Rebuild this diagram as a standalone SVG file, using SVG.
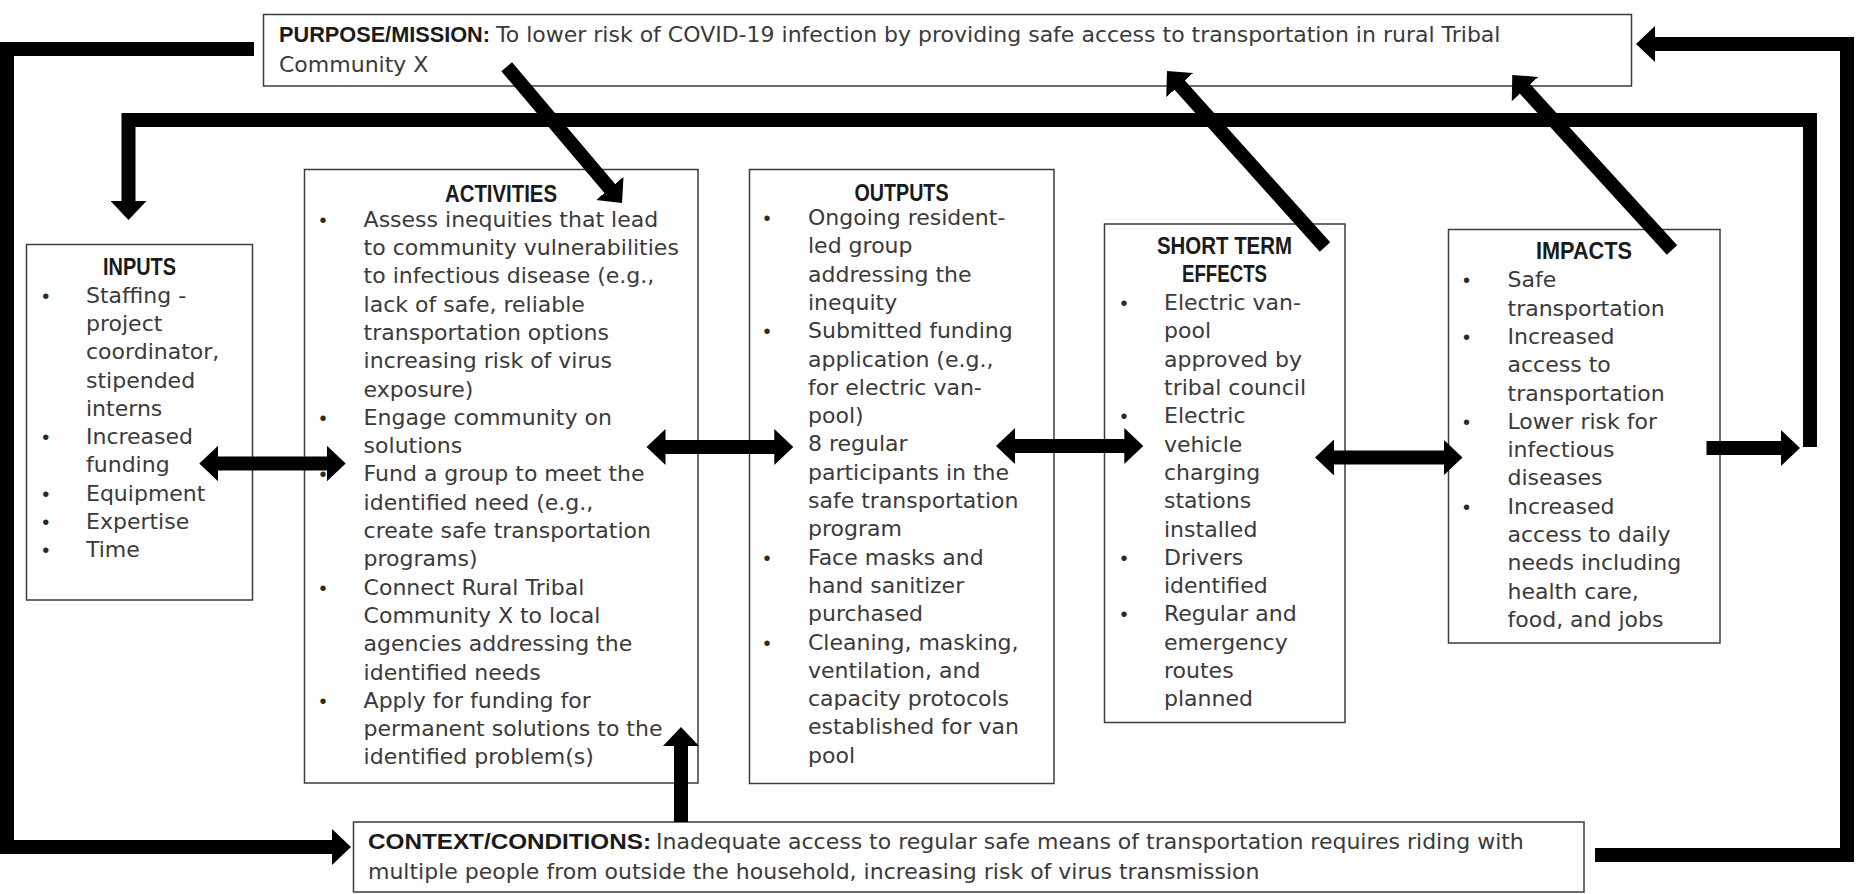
<svg xmlns="http://www.w3.org/2000/svg" width="1864" height="894" viewBox="0 0 1864 894">
<style>
.box{fill:#fff;stroke:#3c3c3c;stroke-width:1.5}
.t{font-family:"DejaVu Sans",Verdana,sans-serif;font-size:22px;fill:#3a3a3a}
.h{font-family:"Liberation Sans",Arial,sans-serif;font-weight:bold;font-size:22px;fill:#1a1a1a}
.hc{font-family:"Liberation Sans",Arial,sans-serif;font-weight:bold;font-size:23px;fill:#1a1a1a;text-anchor:middle}
.b{font-family:"Liberation Sans",Arial,sans-serif;font-size:20px;fill:#2a2a2a;text-anchor:middle}
.c{fill:none;stroke:#000;stroke-width:14;stroke-linejoin:miter;stroke-linecap:butt}
</style>
<defs>
<marker id="ah" markerUnits="userSpaceOnUse" markerWidth="20" markerHeight="36" refX="1" refY="18" orient="auto-start-reverse"><path d="M0,0 L19,18 L0,36 Z" fill="#000"/></marker>
</defs>
<rect width="1864" height="894" fill="#fff"/>

<g id="purpose">
<rect class="box" x="263.5" y="14.5" width="1368" height="71.5"/>
<text class="h" x="279" y="42" textLength="211" lengthAdjust="spacingAndGlyphs">PURPOSE/MISSION:</text>
<text class="t" x="496" y="42">To lower risk of COVID-19 infection by providing safe access to transportation in rural Tribal</text>
<text class="t" x="279" y="72">Community X</text>
</g>

<g id="inputs">
<rect class="box" x="26.5" y="244.5" width="226" height="355.5"/>
<text class="hc" x="139.5" y="275" textLength="73" lengthAdjust="spacingAndGlyphs">INPUTS</text>
<g class="b"><text x="45.7" y="302.7">•</text><text x="45.7" y="444">•</text><text x="45.7" y="500.5">•</text><text x="45.7" y="528.7">•</text><text x="45.7" y="557">•</text></g>
<text class="t"><tspan x="86" y="302.7">Staffing -</tspan><tspan x="86" y="331">project</tspan><tspan x="86" y="359.2">coordinator,</tspan><tspan x="86" y="387.5">stipended</tspan><tspan x="86" y="415.7">interns</tspan><tspan x="86" y="444">Increased</tspan><tspan x="86" y="472.2">funding</tspan><tspan x="86" y="500.5">Equipment</tspan><tspan x="86" y="528.7">Expertise</tspan><tspan x="86" y="557">Time</tspan></text>
</g>

<g id="activities">
<rect class="box" x="304.5" y="169.5" width="393.5" height="613.5"/>
<text class="hc" x="501" y="201.5" textLength="112" lengthAdjust="spacingAndGlyphs">ACTIVITIES</text>
<g class="b"><text x="323" y="226.7">•</text><text x="323" y="424.8">•</text><text x="323" y="481.4">•</text><text x="323" y="594.6">•</text><text x="323" y="707.8">•</text></g>
<text class="t"><tspan x="363.6" y="226.7">Assess inequities that lead</tspan><tspan x="363.6" y="255">to community vulnerabilities</tspan><tspan x="363.6" y="283.3">to infectious disease (e.g.,</tspan><tspan x="363.6" y="311.6">lack of safe, reliable</tspan><tspan x="363.6" y="339.9">transportation options</tspan><tspan x="363.6" y="368.2">increasing risk of virus</tspan><tspan x="363.6" y="396.5">exposure)</tspan><tspan x="363.6" y="424.8">Engage community on</tspan><tspan x="363.6" y="453.1">solutions</tspan><tspan x="363.6" y="481.4">Fund a group to meet the</tspan><tspan x="363.6" y="509.7">identified need (e.g.,</tspan><tspan x="363.6" y="538">create safe transportation</tspan><tspan x="363.6" y="566.3">programs)</tspan><tspan x="363.6" y="594.6">Connect Rural Tribal</tspan><tspan x="363.6" y="622.9">Community X to local</tspan><tspan x="363.6" y="651.2">agencies addressing the</tspan><tspan x="363.6" y="679.5">identified needs</tspan><tspan x="363.6" y="707.8">Apply for funding for</tspan><tspan x="363.6" y="736.1">permanent solutions to the</tspan><tspan x="363.6" y="764.4">identified problem(s)</tspan></text>
</g>

<g id="outputs">
<rect class="box" x="749.5" y="169.5" width="304.5" height="614"/>
<text class="hc" x="901.5" y="200.5" textLength="94" lengthAdjust="spacingAndGlyphs">OUTPUTS</text>
<g class="b"><text x="767" y="225">•</text><text x="767" y="338.2">•</text><text x="767" y="451.4">•</text><text x="767" y="564.6">•</text><text x="767" y="649.5">•</text></g>
<text class="t"><tspan x="808" y="225">Ongoing resident-</tspan><tspan x="808" y="253.3">led group</tspan><tspan x="808" y="281.6">addressing the</tspan><tspan x="808" y="309.9">inequity</tspan><tspan x="808" y="338.2">Submitted funding</tspan><tspan x="808" y="366.5">application (e.g.,</tspan><tspan x="808" y="394.8">for electric van-</tspan><tspan x="808" y="423.1">pool)</tspan><tspan x="808" y="451.4">8 regular</tspan><tspan x="808" y="479.7">participants in the</tspan><tspan x="808" y="508">safe transportation</tspan><tspan x="808" y="536.3">program</tspan><tspan x="808" y="564.6">Face masks and</tspan><tspan x="808" y="592.9">hand sanitizer</tspan><tspan x="808" y="621.2">purchased</tspan><tspan x="808" y="649.5">Cleaning, masking,</tspan><tspan x="808" y="677.8">ventilation, and</tspan><tspan x="808" y="706.1">capacity protocols</tspan><tspan x="808" y="734.4">established for van</tspan><tspan x="808" y="762.7">pool</tspan></text>
</g>

<g id="short-term-effects">
<rect class="box" x="1104.5" y="224" width="240.5" height="498.5"/>
<text class="hc" x="1224.5" y="253.5" textLength="135" lengthAdjust="spacingAndGlyphs">SHORT TERM</text>
<text class="hc" x="1224.5" y="281.8" textLength="85" lengthAdjust="spacingAndGlyphs">EFFECTS</text>
<g class="b"><text x="1124" y="310.1">•</text><text x="1124" y="423.3">•</text><text x="1124" y="564.8">•</text><text x="1124" y="621.4">•</text></g>
<text class="t"><tspan x="1164" y="310.1">Electric van-</tspan><tspan x="1164" y="338.4">pool</tspan><tspan x="1164" y="366.7">approved by</tspan><tspan x="1164" y="395">tribal council</tspan><tspan x="1164" y="423.3">Electric</tspan><tspan x="1164" y="451.6">vehicle</tspan><tspan x="1164" y="479.9">charging</tspan><tspan x="1164" y="508.2">stations</tspan><tspan x="1164" y="536.5">installed</tspan><tspan x="1164" y="564.8">Drivers</tspan><tspan x="1164" y="593.1">identified</tspan><tspan x="1164" y="621.4">Regular and</tspan><tspan x="1164" y="649.7">emergency</tspan><tspan x="1164" y="678">routes</tspan><tspan x="1164" y="706.3">planned</tspan></text>
</g>

<g id="impacts">
<rect class="box" x="1448.5" y="229.5" width="271.5" height="413.5"/>
<text class="hc" x="1584" y="259" textLength="96" lengthAdjust="spacingAndGlyphs">IMPACTS</text>
<g class="b"><text x="1466.5" y="287.3">•</text><text x="1466.5" y="343.9">•</text><text x="1466.5" y="428.8">•</text><text x="1466.5" y="513.7">•</text></g>
<text class="t"><tspan x="1507.5" y="287.3">Safe</tspan><tspan x="1507.5" y="315.6">transportation</tspan><tspan x="1507.5" y="343.9">Increased</tspan><tspan x="1507.5" y="372.2">access to</tspan><tspan x="1507.5" y="400.5">transportation</tspan><tspan x="1507.5" y="428.8">Lower risk for</tspan><tspan x="1507.5" y="457.1">infectious</tspan><tspan x="1507.5" y="485.4">diseases</tspan><tspan x="1507.5" y="513.7">Increased</tspan><tspan x="1507.5" y="542">access to daily</tspan><tspan x="1507.5" y="570.3">needs including</tspan><tspan x="1507.5" y="598.6">health care,</tspan><tspan x="1507.5" y="626.9">food, and jobs</tspan></text>
</g>

<g id="context">
<rect class="box" x="353.5" y="822" width="1230.5" height="70"/>
<text class="h" x="368" y="848.5" textLength="283" lengthAdjust="spacingAndGlyphs">CONTEXT/CONDITIONS:</text>
<text class="t" x="656" y="848.5">Inadequate access to regular safe means of transportation requires riding with</text>
<text class="t" x="368" y="878.5">multiple people from outside the household, increasing risk of virus transmission</text>
</g>

<g id="connectors">
<path class="c" d="M254 49 H7 V847 H333" marker-end="url(#ah)"/>
<path class="c" d="M1810 447 V120 H128.5 V202" marker-end="url(#ah)"/>
<path class="c" d="M1595 855 H1847 V44 H1654" marker-end="url(#ah)"/>
<path class="c" d="M506.7 66.7 L610.4 189.2" marker-end="url(#ah)"/>
<path class="c" d="M1325 247 L1179 84.4" marker-end="url(#ah)"/>
<path class="c" d="M1672 250 L1524.4 88.3" marker-end="url(#ah)"/>
<path class="c" d="M681 822 V745" marker-end="url(#ah)"/>
<path class="c" d="M217.3 463.5 H327.7" marker-start="url(#ah)" marker-end="url(#ah)"/>
<path class="c" d="M664.5 447 H775.3" marker-start="url(#ah)" marker-end="url(#ah)"/>
<path class="c" d="M1014 446 H1125.3" marker-start="url(#ah)" marker-end="url(#ah)"/>
<path class="c" d="M1333 457.5 H1444.5" marker-start="url(#ah)" marker-end="url(#ah)"/>
<path class="c" d="M1706.5 448 H1782" marker-end="url(#ah)"/>
</g>
</svg>
